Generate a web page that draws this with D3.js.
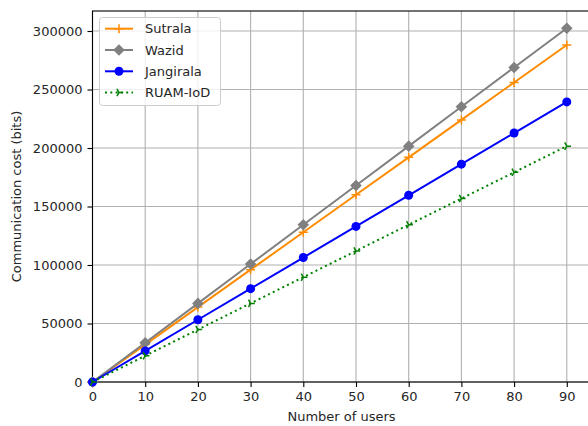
<!doctype html>
<html>
<head>
    <title>Communication cost</title>
    <script src='https://d3js.org/d3.v7.min.js'></script>
    <style>
        body { margin: 0; background: #fff; }
        text { font-family: "DejaVu Sans", sans-serif; fill: #262626; }
    </style>
</head>
<body>
<svg></svg>
</body>
<script>

    // values
    var users = [0, 10, 20, 30, 40, 50, 60, 70, 80, 90];
    var sutrala = [0, 32000, 64000, 96000, 128000, 160000, 192000, 224000, 256000, 288000];
    var wazid = [0, 33600, 67200, 100800, 134400, 168000, 201600, 235200, 268800, 302400];
    var jangirala = [0, 26600, 53200, 79800, 106400, 133000, 159600, 186200, 212800, 239400];
    var ruam = [0, 22400, 44800, 67200, 89600, 112000, 134400, 156800, 179200, 201600];
    var xTicks = [0, 10, 20, 30, 40, 50, 60, 70, 80, 90];
    var yTicks = [0, 50000, 100000, 150000, 200000, 250000, 300000];

    var series = [
        {name: 'Sutrala', values: sutrala, color: '#ff8c00', marker: 'plus', dash: null},
        {name: 'Wazid', values: wazid, color: '#808080', marker: 'diamond', dash: null},
        {name: 'Jangirala', values: jangirala, color: '#0000ff', marker: 'circle', dash: null},
        {name: 'RUAM-IoD', values: ruam, color: '#008000', marker: 'tri', dash: '2,3.3'}
    ];

    var svgWidth = 588, svgHeight = 426;
    var plotLeft = 92.5, plotRight = 590.5, plotTop = 11, plotBottom = 382;

    var svg = d3.select('svg')
        .attr('width', svgWidth)
        .attr('height', svgHeight);

    var xScale = d3.scaleLinear().domain([0, 94.5]).range([plotLeft, plotRight]);
    var yScale = d3.scaleLinear().domain([0, 317100]).range([plotBottom, plotTop]);

    // grid
    svg.append('g').selectAll('line')
        .data(xTicks).enter().append('line')
        .attr('x1', function (d) { return xScale(d); })
        .attr('x2', function (d) { return xScale(d); })
        .attr('y1', plotTop).attr('y2', plotBottom)
        .attr('stroke', '#b0b0b0').attr('stroke-width', 1.1);
    svg.append('g').selectAll('line')
        .data(yTicks).enter().append('line')
        .attr('y1', function (d) { return yScale(d); })
        .attr('y2', function (d) { return yScale(d); })
        .attr('x1', plotLeft).attr('x2', plotRight)
        .attr('stroke', '#b0b0b0').attr('stroke-width', 1.1);

    // axes
    var xAxis = d3.axisBottom(xScale).tickValues(xTicks).tickSize(5).tickPadding(5);
    var yAxis = d3.axisLeft(yScale).tickValues(yTicks).tickSize(5).tickPadding(5)
        .tickFormat(d3.format('d'));

    var gx = svg.append('g')
        .attr('transform', 'translate(0,' + plotBottom + ')')
        .call(xAxis);
    var gy = svg.append('g')
        .attr('transform', 'translate(' + plotLeft + ',0)')
        .call(yAxis);
    [gx, gy].forEach(function (g) {
        g.select('.domain').remove();
        g.selectAll('line').attr('stroke', '#000').attr('stroke-width', 1.1);
        g.selectAll('text').attr('font-size', '13px').attr('fill', '#262626')
            .style('font-family', '"DejaVu Sans", sans-serif');
    });

    // spines
    svg.append('rect')
        .attr('x', plotLeft).attr('y', plotTop)
        .attr('width', plotRight - plotLeft).attr('height', plotBottom - plotTop)
        .attr('fill', 'none').attr('stroke', '#000').attr('stroke-width', 1.1);

    function drawMarker(g, type, color, x, y) {
        if (type === 'circle') {
            g.append('circle').attr('cx', x).attr('cy', y).attr('r', 4.5).attr('fill', color);
        } else if (type === 'diamond') {
            var s = 5.8;
            g.append('path')
                .attr('d', 'M' + x + ',' + (y - s) + 'L' + (x + s) + ',' + y + 'L' + x + ',' + (y + s) + 'L' + (x - s) + ',' + y + 'Z')
                .attr('fill', color);
        } else if (type === 'plus') {
            g.append('path')
                .attr('d', 'M' + (x - 4.5) + ',' + y + 'H' + (x + 4.5) + 'M' + x + ',' + (y - 4.5) + 'V' + (y + 4.5))
                .attr('stroke', color).attr('stroke-width', 1.5);
        } else if (type === 'tri') {
            var r = 4.2, p = '';
            [0, 120, 240].forEach(function (a) {
                var t = a * Math.PI / 180;
                p += 'M' + x + ',' + y + 'L' + (x + r * Math.cos(t)) + ',' + (y - r * Math.sin(t));
            });
            g.append('path').attr('d', p).attr('stroke', color).attr('stroke-width', 1.5);
        }
    }

    var line = d3.line()
        .x(function (d, i) { return xScale(users[i]); })
        .y(function (d) { return yScale(d); });

    series.forEach(function (s) {
        var g = svg.append('g');
        g.append('path')
            .attr('d', line(s.values))
            .attr('fill', 'none')
            .attr('stroke', s.color)
            .attr('stroke-width', 2)
            .attr('stroke-dasharray', s.dash);
        s.values.forEach(function (v, i) {
            drawMarker(g, s.marker, s.color, xScale(users[i]), yScale(v));
        });
    });

    // legend
    var legend = svg.append('g');
    legend.append('rect')
        .attr('x', 99.5).attr('y', 17.5).attr('width', 121).attr('height', 88)
        .attr('rx', 3)
        .attr('fill', '#fff').attr('fill-opacity', 0.8)
        .attr('stroke', '#cccccc');
    series.forEach(function (s, i) {
        var ly = 28.7 + i * 21.3;
        legend.append('line')
            .attr('x1', 105).attr('x2', 133).attr('y1', ly).attr('y2', ly)
            .attr('stroke', s.color).attr('stroke-width', 2)
            .attr('stroke-dasharray', s.dash);
        drawMarker(legend, s.marker, s.color, 119, ly);
        legend.append('text')
            .attr('x', 145).attr('y', ly + 4.7)
            .attr('font-size', '13px')
            .text(s.name);
    });

    // axis labels
    svg.append('text')
        .attr('x', (plotLeft + plotRight) / 2).attr('y', 421)
        .attr('text-anchor', 'middle')
        .attr('font-size', '13px')
        .text('Number of users');

    svg.append('clipPath').attr('id', 'lab-clip')
        .append('rect').attr('x', 10).attr('y', 0).attr('width', 40).attr('height', svgHeight);
    svg.append('g').attr('clip-path', 'url(#lab-clip)')
        .append('text')
        .attr('transform', 'translate(20.5,' + ((plotTop + plotBottom) / 2) + ') rotate(-90)')
        .attr('text-anchor', 'middle')
        .attr('font-size', '13px')
        .text('Communication cost (bits)');

</script>
</html>
